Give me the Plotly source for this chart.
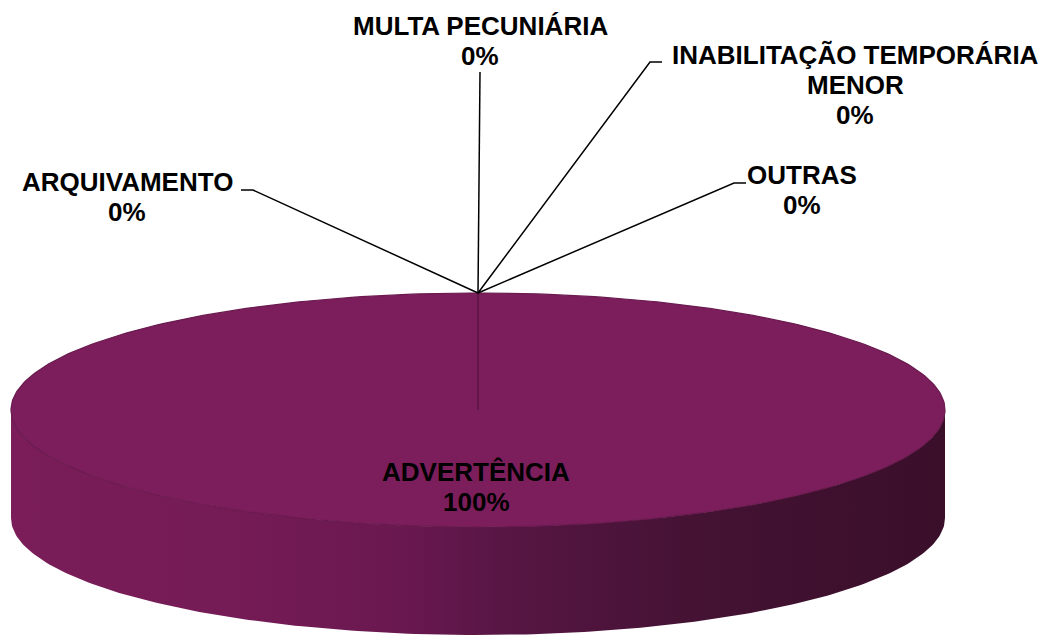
import numpy as np
import plotly.graph_objects as go

# data
labels = ["ADVERTÊNCIA", "ARQUIVAMENTO", "MULTA PECUNIÁRIA",
          "INABILITAÇÃO TEMPORÁRIA\nMENOR", "OUTRAS"]
values = [100, 0, 0, 0, 0]

# pie geometry in pixel space (3D look)
cx, cy = 478, 410
rx, ry = 467, 117
depth = 108
top_color = "#7B1E5B"
side_scale = [[0, "#7A1D58"], [0.25, "#741B55"], [0.42, "#6A1850"],
              [0.52, "#581645"], [0.74, "#441233"], [1, "#3A0F2A"]]

# label layout: (text centre x, y, elbow x, elbow y, end x)
label_pos = {
    "ARQUIVAMENTO": (127, 197, 253, 190, 241),
    "MULTA PECUNIÁRIA": (480, 41, 480, 72, 480),
    "INABILITAÇÃO TEMPORÁRIA\nMENOR": (855, 85, 650, 62, 662),
    "OUTRAS": (802, 190, 734, 183, 746),
}

font = dict(family="Liberation Sans, Arial", size=26, color="black", weight="bold")
line_gap = 30

# page body has an 8px margin; shift axis ranges so coords match the page
off = 8


def rim(theta, dy=0.0):
    # theta measured clockwise from 12 o'clock
    return cx + rx * np.sin(theta), cy - ry * np.cos(theta) + dy


def add_label(fig, x, y, lines):
    n = len(lines)
    for i, s in enumerate(lines):
        fig.add_annotation(x=x, y=y + (i - (n - 1) / 2) * line_gap, text=s,
                           showarrow=False, font=font, align="center")


fig = go.Figure()

# side wall (front half)
t = np.linspace(np.pi / 2, 3 * np.pi / 2, 200)
xt, yt = rim(t)
xb, yb = rim(t[::-1], depth)
fig.add_trace(go.Scatter(
    x=np.r_[xt, xb], y=np.r_[yt, yb], mode="lines", fill="toself",
    line=dict(width=0), fillgradient=dict(type="horizontal", colorscale=side_scale),
    hoverinfo="skip", showlegend=False))

# top face, one slice per value
total = sum(values)
cum = 0.0
for lab, v in zip(labels, values):
    a0 = 2 * np.pi * cum / total
    cum += v
    a1 = 2 * np.pi * cum / total
    pct = f"{v / total:.0%}"
    if v > 0:
        tt = np.linspace(a0, a1, 400)
        xs, ys = rim(tt)
        fig.add_trace(go.Scatter(
            x=np.r_[cx, xs, cx], y=np.r_[cy, ys, cy], mode="lines", fill="toself",
            fillcolor=top_color, line=dict(color="#6A1A4F", width=1.2),
            hoverinfo="skip", showlegend=False))
        # slice edge seam
        ex, ey = rim(a1)
        fig.add_trace(go.Scatter(
            x=[ex, cx], y=[ey, cy], mode="lines",
            line=dict(color="rgba(90,20,65,0.6)", width=2),
            hoverinfo="skip", showlegend=False))
        mid = (a0 + a1) / 2
        mx, my = cx + rx * np.sin(mid) * 0, cy - 0.66 * ry * np.cos(mid)
        add_label(fig, mx - 2, my, lab.split("\n") + [pct])
    else:
        px_, py_ = rim(a0)
        tx, ty, ex, ey, endx = label_pos[lab]
        fig.add_trace(go.Scatter(
            x=[px_, ex, endx], y=[py_, ey, ey], mode="lines",
            line=dict(color="black", width=1.5),
            hoverinfo="skip", showlegend=False))
        add_label(fig, tx, ty, lab.split("\n") + [pct])

fig.update_layout(
    width=1051, height=640,
    margin=dict(l=0, r=0, t=0, b=0),
    paper_bgcolor="white", plot_bgcolor="white",
    xaxis=dict(range=[off, 1051 + off], visible=False, fixedrange=True),
    yaxis=dict(range=[640 + off, off], visible=False, fixedrange=True),
    showlegend=False,
)

fig.write_html("out.html")
